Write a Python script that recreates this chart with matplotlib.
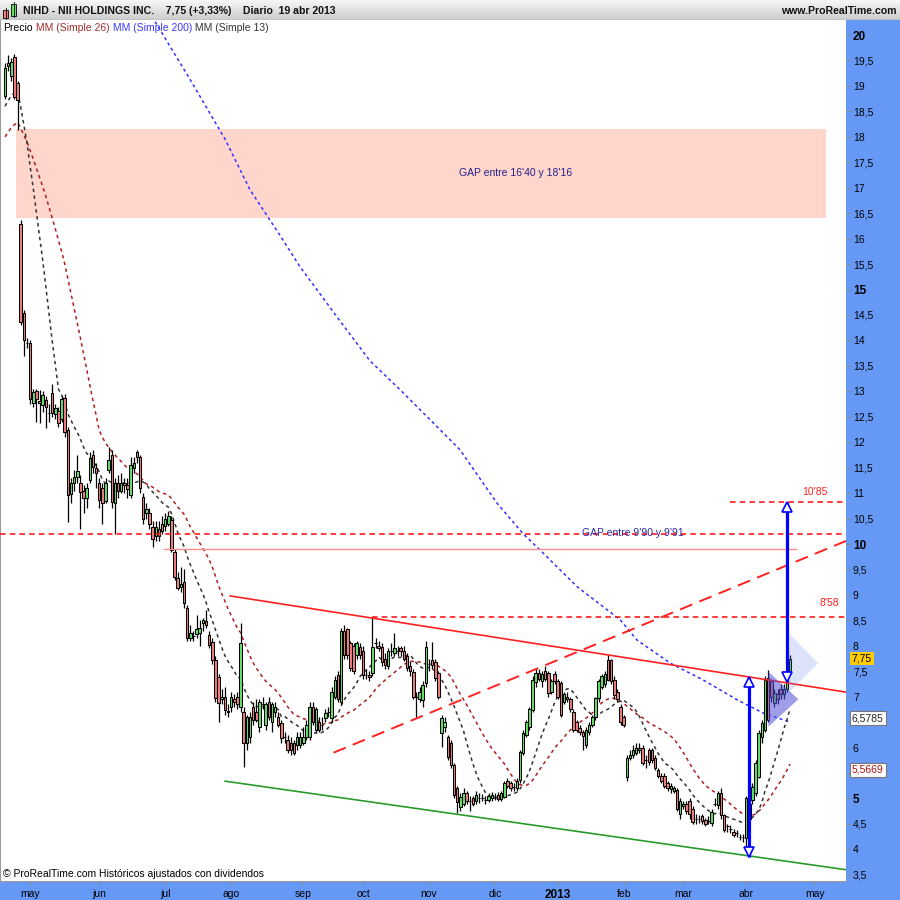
import matplotlib
matplotlib.use('Agg')
import matplotlib.pyplot as plt
from matplotlib.patches import Rectangle, Polygon
from matplotlib.colors import LinearSegmentedColormap
import numpy as np
import pandas as pd

plt.rcParams['font.family'] = ['Liberation Sans', 'DejaVu Sans']
plt.rcParams['lines.scale_dashes'] = False

# ---- daily candles, 19 abr 2012 .. 19 abr 2013 ----
opens = [
    18.8, 19.4, 19.2, 19.57, 19.06, 16.29, 14.54, 13.95, 13.95, 12.77,
    13.0, 12.8, 12.73, 12.83, 12.57, 12.97, 12.55, 12.62, 12.45, 12.87,
    12.24, 10.98, 11.2, 11.32, 11.2, 11.05, 10.9, 11.26, 11.75, 11.5,
    11.2, 11.1, 10.85, 11.45, 11.75, 10.8, 11.2, 11.05, 11.2, 11.15,
    10.96, 11.5, 11.8, 11.7, 10.92, 10.6, 10.6, 10.33, 10.15, 10.3,
    10.4, 10.35, 10.4, 10.47, 9.84, 9.33, 9.15, 9.25, 8.74, 8.15,
    8.2, 8.23, 8.25, 8.45, 8.48, 8.21, 8.07, 7.72, 7.38, 6.95,
    7.0, 6.72, 6.8, 6.95, 7.0, 6.8, 6.7, 6.1, 6.2, 6.8,
    6.7, 6.4, 6.85, 6.45, 6.9, 6.5, 6.7, 6.6, 6.48, 6.2,
    6.15, 6.1, 6.09, 6.05, 6.05, 6.1, 6.2, 6.2, 6.8, 6.35,
    6.5, 6.45, 6.58, 6.7, 6.58, 7.0, 7.43, 6.9, 8.3, 8.33,
    8.06, 8.0, 7.82, 7.97, 7.9, 7.43, 7.43, 7.47, 8.05, 8.0,
    7.97, 7.75, 7.6, 7.9, 7.85, 7.9, 7.95, 7.9, 7.8, 7.6,
    7.49, 7.0, 6.95, 6.93, 7.27, 7.65, 7.72, 7.68, 7.47, 6.29,
    6.4, 6.2, 6.09, 5.66, 5.2, 4.83, 4.9, 5.1, 4.95, 5.0,
    4.95, 5.0, 5.0, 4.98, 4.98, 5.0, 5.05, 5.07, 4.99, 5.03,
    5.35, 5.3, 5.22, 5.2, 5.36, 5.9, 6.25, 6.4, 6.74, 7.29,
    7.47, 7.3, 7.5, 7.47, 7.1, 7.45, 7.3, 7.27, 6.9, 7.0,
    6.95, 6.7, 6.5, 6.38, 6.3, 6.05, 6.3, 6.45, 6.6, 6.97,
    7.2, 7.25, 7.72, 7.72, 7.33, 7.1, 6.8, 6.6, 5.42, 5.8,
    5.85, 5.9, 6.0, 6.0, 5.75, 5.95, 5.95, 5.8, 5.55, 5.45,
    5.45, 5.3, 5.18, 5.15, 5.17, 4.7, 4.85, 4.9, 4.95, 4.8,
    4.6, 4.6, 4.65, 4.58, 4.55, 4.52, 4.9, 4.87, 5.11, 4.68,
    4.45, 4.4, 4.34, 4.32, 4.25, 4.24, 4.22, 4.6, 4.97, 5.11,
    5.42, 6.2, 6.35, 7.37, 7.3, 6.88, 7.05, 7.15, 7.05, 7.15,
    7.5,
]
highs = [
    19.45, 19.6, 19.55, 19.62, 19.1, 16.37, 14.6, 14.05, 14.0, 13.05,
    13.05, 13.02, 13.0, 12.9, 12.75, 13.14, 12.75, 12.7, 12.9, 12.95,
    12.3, 11.3, 11.45, 11.75, 11.35, 11.15, 11.2, 11.8, 11.85, 11.6,
    11.3, 11.2, 11.3, 11.9, 11.85, 11.3, 11.35, 11.4, 11.3, 11.3,
    11.7, 11.7, 11.85, 11.75, 11.0, 10.8, 10.7, 10.45, 10.45, 10.45,
    10.55, 10.6, 10.65, 10.55, 9.9, 9.45, 9.55, 9.5, 8.8, 8.4,
    8.3, 8.6, 8.5, 8.55, 8.7, 8.3, 8.15, 7.8, 7.45, 7.15,
    7.2, 6.85, 7.1, 7.05, 7.1, 8.45, 6.8, 6.65, 6.7, 6.9,
    6.95, 6.95, 7.0, 6.9, 7.0, 6.9, 6.9, 6.7, 6.55, 6.3,
    6.25, 6.2, 6.15, 6.3, 6.3, 6.4, 6.55, 6.9, 6.9, 6.8,
    6.6, 6.6, 6.75, 6.8, 7.2, 7.4, 7.5, 8.35, 8.4, 8.35,
    8.1, 8.05, 8.1, 8.05, 8.0, 7.55, 7.5, 8.55, 8.15, 8.1,
    8.05, 7.85, 7.95, 8.05, 8.25, 8.0, 8.0, 8.0, 7.85, 7.7,
    7.55, 7.1, 7.2, 7.3, 8.1, 7.75, 8.08, 7.75, 7.5, 6.65,
    6.6, 6.25, 6.15, 5.7, 5.25, 5.1, 5.2, 5.15, 5.05, 5.05,
    5.15, 5.1, 5.08, 5.05, 5.1, 5.12, 5.1, 5.12, 5.15, 5.35,
    5.4, 5.35, 5.3, 5.4, 5.95, 6.35, 6.55, 6.8, 7.4, 7.55,
    7.55, 7.5, 7.6, 7.5, 7.35, 7.5, 7.35, 7.3, 7.1, 7.1,
    7.0, 6.75, 6.55, 6.45, 6.35, 6.4, 6.5, 6.65, 7.0, 7.35,
    7.45, 7.5, 7.82, 7.75, 7.4, 7.15, 6.85, 6.65, 5.85, 5.95,
    6.05, 6.1, 6.1, 6.05, 5.85, 6.0, 6.0, 5.85, 5.6, 5.5,
    5.5, 5.35, 5.3, 5.25, 5.2, 5.0, 4.95, 4.95, 5.0, 4.85,
    4.7, 4.68, 4.7, 4.62, 4.65, 4.8, 5.0, 5.15, 5.2, 4.7,
    4.5, 4.48, 4.4, 4.38, 4.3, 4.3, 5.05, 4.95, 5.3, 5.75,
    6.35, 6.55, 7.4, 7.52, 7.35, 7.15, 7.15, 7.25, 7.25, 7.45,
    7.82,
]
lows = [
    18.75, 19.3, 19.1, 18.75, 18.13, 14.3, 13.7, 13.85, 12.75, 12.7,
    12.4, 12.38, 12.6, 12.28, 12.4, 12.5, 12.45, 12.3, 12.4, 12.1,
    10.43, 10.8, 11.05, 11.2, 10.3, 10.6, 10.7, 11.2, 11.4, 11.1,
    10.7, 10.4, 10.8, 11.4, 10.7, 10.2, 10.9, 11.0, 11.0, 10.9,
    10.9, 11.4, 11.6, 11.0, 10.4, 10.5, 10.3, 9.95, 10.05, 10.05,
    10.2, 10.25, 10.35, 9.85, 9.3, 9.1, 9.05, 8.75, 8.1, 8.1,
    8.1, 8.15, 8.0, 8.3, 8.35, 7.95, 7.65, 6.9, 6.5, 6.85,
    6.65, 6.6, 6.7, 6.8, 6.75, 6.7, 5.62, 5.95, 6.1, 6.45,
    6.5, 6.3, 6.75, 6.35, 6.55, 6.3, 6.6, 6.4, 6.1, 6.1,
    5.9, 5.85, 5.85, 5.95, 6.0, 6.05, 6.15, 6.15, 6.45, 6.3,
    6.3, 6.35, 6.5, 6.6, 6.5, 6.95, 6.9, 6.85, 7.75, 7.75,
    7.5, 7.45, 7.75, 7.75, 7.35, 7.35, 7.3, 7.4, 7.95, 7.9,
    7.6, 7.55, 7.55, 7.8, 7.8, 7.8, 7.8, 7.7, 7.5, 7.4,
    6.95, 6.6, 6.9, 6.8, 7.2, 7.5, 7.55, 7.3, 6.95, 6.01,
    6.3, 5.75, 5.6, 5.0, 4.71, 4.75, 4.85, 4.9, 4.75, 4.85,
    4.9, 4.92, 4.95, 4.9, 4.93, 4.95, 4.98, 4.95, 4.95, 5.0,
    5.2, 5.15, 5.15, 5.15, 5.3, 5.85, 6.2, 6.35, 6.7, 7.2,
    7.3, 7.2, 7.3, 7.0, 7.05, 7.25, 6.95, 6.6, 6.85, 6.9,
    6.7, 6.3, 6.3, 6.25, 5.95, 6.0, 6.25, 6.4, 6.55, 6.9,
    7.15, 7.2, 7.3, 7.25, 6.95, 6.9, 6.45, 6.4, 5.35, 5.75,
    5.8, 5.85, 5.9, 5.65, 5.6, 5.65, 5.7, 5.55, 5.4, 5.3,
    5.2, 5.15, 5.1, 5.1, 4.75, 4.6, 4.8, 4.7, 4.6, 4.5,
    4.5, 4.52, 4.5, 4.45, 4.5, 4.45, 4.85, 4.8, 4.6, 4.35,
    4.35, 4.32, 4.25, 4.25, 4.18, 4.15, 4.0, 4.55, 4.9, 5.05,
    5.4, 6.1, 6.3, 6.5, 6.9, 6.8, 6.85, 6.95, 6.95, 7.1,
    7.45,
]
closes = [
    19.35, 19.45, 19.47, 18.78, 18.72, 14.36, 14.0, 13.95, 12.85, 12.99,
    12.85, 12.77, 12.92, 12.69, 12.57, 12.57, 12.68, 12.38, 12.85, 12.2,
    10.96, 11.2, 11.32, 11.43, 11.02, 10.9, 11.1, 11.69, 11.51, 11.4,
    10.86, 10.8, 11.2, 11.65, 10.83, 11.2, 11.05, 11.2, 11.15, 11.08,
    11.55, 11.6, 11.7, 11.1, 10.5, 10.68, 10.4, 10.1, 10.33, 10.16,
    10.25, 10.5, 10.55, 9.88, 9.35, 9.14, 9.22, 8.84, 8.15, 8.25,
    8.2, 8.33, 8.35, 8.5, 8.4, 8.02, 7.72, 6.97, 6.88, 7.0,
    6.74, 6.7, 7.0, 6.9, 6.85, 8.06, 6.09, 6.6, 6.6, 6.54,
    6.55, 6.9, 6.85, 6.85, 6.6, 6.85, 6.8, 6.45, 6.19, 6.2,
    5.95, 5.95, 5.9, 6.2, 6.2, 6.2, 6.45, 6.8, 6.5, 6.75,
    6.35, 6.45, 6.68, 6.7, 7.1, 7.33, 6.95, 8.3, 7.82, 7.82,
    7.56, 7.5, 8.06, 7.82, 7.43, 7.43, 7.38, 7.97, 8.05, 7.95,
    7.68, 7.62, 7.9, 7.9, 7.95, 7.9, 7.9, 7.75, 7.56, 7.5,
    7.0, 7.0, 7.1, 7.23, 7.97, 7.65, 7.62, 7.37, 7.0, 6.58,
    6.5, 5.82, 5.66, 5.07, 4.93, 5.03, 5.1, 4.95, 4.95, 4.9,
    5.07, 5.0, 5.0, 4.98, 5.05, 5.07, 5.05, 4.99, 5.1, 5.3,
    5.25, 5.2, 5.22, 5.35, 5.91, 6.29, 6.5, 6.75, 7.33, 7.47,
    7.35, 7.45, 7.35, 7.07, 7.3, 7.3, 7.0, 6.64, 7.05, 6.95,
    6.75, 6.35, 6.35, 6.3, 6.22, 6.35, 6.45, 6.6, 6.97, 7.3,
    7.4, 7.45, 7.33, 7.3, 7.03, 6.95, 6.5, 6.45, 5.79, 5.85,
    5.95, 6.0, 5.95, 5.7, 5.75, 5.72, 5.75, 5.6, 5.45, 5.35,
    5.25, 5.2, 5.25, 5.2, 4.8, 4.95, 4.9, 4.75, 4.7, 4.54,
    4.6, 4.6, 4.55, 4.5, 4.55, 4.73, 4.9, 5.11, 4.68, 4.38,
    4.45, 4.4, 4.28, 4.32, 4.25, 4.24, 5.0, 4.9, 5.23, 5.7,
    6.29, 6.48, 7.33, 6.55, 7.0, 7.07, 6.95, 7.05, 7.15, 7.4,
    7.75,
]
# closes before the visible window, only to warm up the short averages
prior_closes = [17.2, 17.0, 17.3, 17.5, 17.4, 17.6, 17.3, 17.2, 17.5, 17.6, 17.4, 17.5, 17.7,
                18.0, 18.2, 18.1, 18.4, 18.3, 18.6, 18.5, 18.8, 18.7, 18.9, 19.0, 18.95]

# MM 200 (bar index, value)
ma200_idx = [47.8, 58.9, 70.1, 78.0, 87.6, 93.9, 106.7, 116.2, 125.8, 135.4,
             144.9, 156.7, 165.0, 170.4, 182.2, 195.9, 201.3, 211.8, 222.3, 233.1, 241.4, 250]
ma200_val = [20.26, 19.13, 17.95, 16.96, 16.06, 15.45, 14.38, 13.6, 13.03, 12.44,
             11.85, 10.8, 10.2, 9.88, 9.16, 8.51, 8.11, 7.66, 7.33, 6.94, 6.68, 6.5]

# NYSE closed days in the window
holidays = ['2012-05-28', '2012-07-04', '2012-09-03', '2012-10-29', '2012-10-30',
            '2012-11-22', '2012-12-25', '2013-01-01', '2013-01-21', '2013-02-18', '2013-03-29']
month_names = ['2013', 'feb', 'mar', 'abr', 'may', 'jun', 'jul', 'ago', 'sep', 'oct', 'nov', 'dic']

# drawn objects (bar index, price)
gap_zone = (16.40, 18.16)
gap_zone_span = (3.5, 261.5)
resist_line = [(71.7, 8.98), (267.8, 7.09)]
support_line = [(104.6, 5.90), (267.8, 10.06)]
channel_low = [(70.1, 5.34), (267.8, 3.60)]
level_full = 10.20
level_858 = (117.0, 8.56)
level_1085 = (231.0, 10.82)
gap_line = (50.6, 251.9, 9.90)
arrow_1 = (237.0, 3.85, 7.37)
arrow_2 = (249.0, 7.30, 10.82)
tri_dark = [(243.1, 7.49), (252.6, 6.95), (243.1, 6.41)]
tri_light = [(249.5, 8.25), (258.9, 7.66), (249.5, 7.07)]
ma_last = [6.5785, 5.5669]

n = len(closes)
x = np.arange(n)
o = np.array(opens); h = np.array(highs); l = np.array(lows); c = np.array(closes)

allc = pd.Series(prior_closes + closes)
ma13 = allc.rolling(13).mean().values[len(prior_closes):]
ma26 = allc.rolling(26).mean().values[len(prior_closes):]

cbd = pd.offsets.CustomBusinessDay(holidays=holidays)
dates = pd.date_range(end='2013-04-19', periods=n, freq=cbd)
ext = pd.date_range(start=dates[0], periods=n + 15, freq=cbd)
tick_pos, tick_lab = [], []
for k in range(1, len(ext)):
    if ext[k].month != ext[k - 1].month:
        tick_pos.append(k)
        tick_lab.append(month_names[ext[k].month - 1])

W, H = 900, 900
fig = plt.figure(figsize=(9, 9), dpi=100)
axblue = '#6699f5'
fig.patches.append(Rectangle((846 / W, 0), 54 / W, 880 / H, transform=fig.transFigure,
                             color=axblue, zorder=-1))
fig.patches.append(Rectangle((0, 0), 1, 19 / H, transform=fig.transFigure,
                             color=axblue, zorder=-1))

ax = fig.add_axes([0, 19 / H, 846 / W, 861 / H])
ax.set_xlim(-1.6, 267.8)
ax.set_ylim(3.379, 20.295)

# gap zone
ax.add_patch(Rectangle((gap_zone_span[0], gap_zone[0]), gap_zone_span[1] - gap_zone_span[0],
                       gap_zone[1] - gap_zone[0], color='#ffd5cc', lw=0, zorder=1))
ax.text((gap_zone_span[0] + gap_zone_span[1]) / 2 + 30, sum(gap_zone) / 2,
        "GAP entre 16'40 y 18'16", color='#22228a', fontsize=7.5, ha='center', va='center', zorder=2)

# horizontal levels
dash = dict(color='#ff1a1a', lw=1.2, dashes=(4, 3), zorder=5)
ax.axhline(level_full, **dash)
ax.plot([level_858[0], 267.8], [level_858[1]] * 2, **dash)
ax.plot([level_1085[0], 267.8], [level_1085[1]] * 2, **dash)
ax.plot([gap_line[0], gap_line[1]], [gap_line[2]] * 2, color='#ff8c8c', lw=1.0, zorder=5)
ax.text(200, 10.22, "GAP entre 9'90 y 9'91", color='#2a2aa0', fontsize=7.5,
        ha='center', va='center', zorder=6)
ax.text(258, 10.93, "10'85", color='#ff2020', fontsize=7.5, ha='center', va='bottom', zorder=6)
ax.text(262.5, 8.84, "8'58", color='#ff2020', fontsize=7.5, ha='center', va='center', zorder=6)

# moving averages
ax.plot(ma200_idx, ma200_val, color='#2f2fff', lw=1.1, dashes=(2.2, 2.2), zorder=3)
ax.plot(x, ma26, color='#b02020', lw=1.1, dashes=(2.5, 2.5), zorder=3)
ax.plot(x, ma13, color='#333333', lw=1.1, dashes=(2.5, 2.5), zorder=3)

# candles
up = c >= o
ax.vlines(x, l, h, color='black', lw=0.9, zorder=4)
ax.bar(x, np.abs(c - o), bottom=np.minimum(o, c), width=0.8,
       color=np.where(up, '#66e066', '#f08080'), edgecolor='black', linewidth=0.75, zorder=4)

# trend lines
ax.plot(*zip(*resist_line), color='#ff2020', lw=1.2, zorder=5)
ax.plot(*zip(*support_line), color='#ff2020', lw=1.4, dashes=(9.5, 5.5), zorder=5)
ax.plot(*zip(*channel_low), color='#2a9a2a', lw=1.2, zorder=5)

# measured-move arrows
hd = 0.09
for ax_i, lo, hi in (arrow_1, arrow_2):
    ax.plot([ax_i, ax_i], [lo, hi], color='#0000ff', lw=2.3, zorder=6, solid_capstyle='butt')
    ax.plot([ax_i], [hi - hd], marker='^', ms=7.5, mfc='white', mec='#0000ff', mew=1.2, zorder=7)
    ax.plot([ax_i], [lo + hd], marker='v', ms=7.5, mfc='white', mec='#0000ff', mew=1.2, zorder=7)

ax.add_patch(Polygon(tri_light, closed=True, facecolor=(0.39, 0.51, 0.94), alpha=0.22, lw=0, zorder=6))
ax.add_patch(Polygon(tri_dark, closed=True, facecolor=(0.31, 0.31, 0.86), alpha=0.55, lw=0, zorder=6))

# axes look
for s in ('right', 'top'):
    ax.spines[s].set_visible(False)
for s in ('left', 'bottom'):
    ax.spines[s].set_color('#9a9a9a')
ax.yaxis.tick_right()
yt = np.arange(3.5, 20.01, 0.5)
ax.set_yticks(yt)
# tick labels hidden under the value tags stay blank
ylabels = []
for v in yt:
    covered = any(abs(v - m) < 0.12 for m in ma_last)
    ylabels.append('' if covered else ('%g' % v).replace('.', ','))
ax.set_yticklabels(ylabels)
ax.tick_params(axis='y', direction='out', length=3, color='#8a8a8a', labelsize=7.5, pad=2)
for lab, v in zip(ax.get_yticklabels(), yt):
    if v % 5 == 0:
        lab.set_fontweight('bold')
        lab.set_fontsize(8.5)
ax.set_xticks(tick_pos)
ax.set_xticklabels(tick_lab)
ax.tick_params(axis='x', direction='out', length=3, color='#8a8a8a', labelsize=7.5, pad=3)
for lab in ax.get_xticklabels():
    if lab.get_text() == '2013':
        lab.set_fontweight('bold')
        lab.set_fontsize(8.5)

# right-axis value tags
yx = ax.get_yaxis_transform()
ax.text(1.007, closes[-1], ('%.2f' % closes[-1]).replace('.', ','), transform=yx, fontsize=7.5,
        ha='left', va='center', zorder=10,
        bbox=dict(boxstyle='square,pad=0.15', fc='#ffcc00', ec='none'))
ax.text(1.007, ma_last[0], ('%.4f' % ma_last[0]).replace('.', ','), transform=yx, fontsize=7.5,
        color='#222222', ha='left', va='center', zorder=10,
        bbox=dict(boxstyle='square,pad=0.2', fc='white', ec='#777777', lw=0.8))
ax.text(1.007, ma_last[1], ('%.4f' % ma_last[1]).replace('.', ','), transform=yx, fontsize=7.5,
        color='#aa1111', ha='left', va='center', zorder=10,
        bbox=dict(boxstyle='square,pad=0.2', fc='white', ec='#777777', lw=0.8))

# legend line
t = ax.text(0.004, 0.9905, 'Precio', transform=ax.transAxes, fontsize=7.5, va='center', zorder=8)
for txt, col in ((' MM (Simple 26)', '#a52a2a'), (' MM (Simple 200)', '#3a3aff'),
                 (' MM (Simple 13)', '#333333')):
    t = ax.annotate(txt, xy=(1, 0), xycoords=t, va='bottom', ha='left', fontsize=7.5,
                    color=col, zorder=8)
ax.text(0.004, 0.008, u'\u00a9 ProRealTime.com Hist\u00f3ricos ajustados con dividendos',
        transform=ax.transAxes, fontsize=7.5, va='center', zorder=8)

# header bar
hdr = fig.add_axes([0, 880 / H, 1, 20 / H])
grad = LinearSegmentedColormap.from_list('hdr', ['#f6f6f6', '#cdcdcd'])
hdr.imshow(np.linspace(0, 1, 20).reshape(-1, 1), cmap=grad, aspect='auto', extent=[0, 900, 20, 0])
hdr.set_xlim(0, 900)
hdr.set_ylim(20, 0)
hdr.axis('off')
hdr.axhline(19.5, color='#9a9a9a', lw=1)
hdr.add_patch(Rectangle((3, 10), 5, 8, fc='#f08080', ec='black', lw=0.6))
hdr.plot([5.5, 5.5], [8, 19], color='black', lw=0.6)
hdr.add_patch(Rectangle((11, 4), 5, 12, fc='#66e066', ec='black', lw=0.6))
hdr.plot([13.5, 13.5], [2, 17], color='black', lw=0.6)
hdr.text(23, 10.5, 'NIHD - NII HOLDINGS INC.    7,75 (+3,33%)    Diario  19 abr 2013',
         fontsize=7.6, fontweight='bold', va='center', ha='left', color='#111111')
hdr.text(897, 10.5, 'www.ProRealTime.com', fontsize=7.6, fontweight='bold', va='center',
         ha='right', color='#111111')

fig.savefig('out.png', dpi=100)
